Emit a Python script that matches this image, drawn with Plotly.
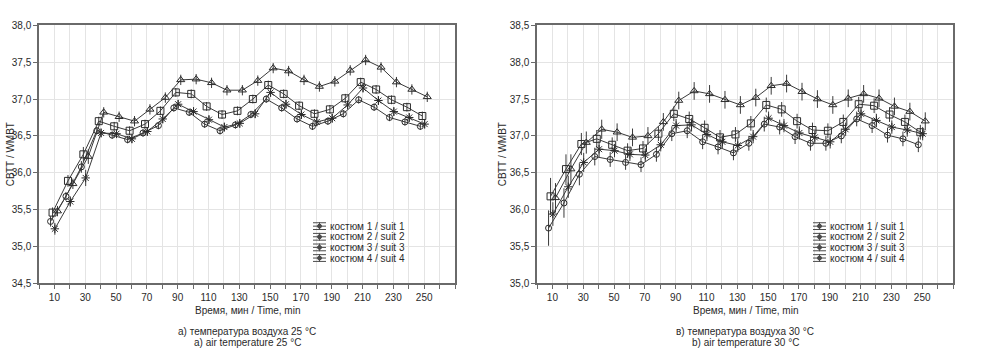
import plotly.graph_objects as go

# ---------------- data ----------------
time = list(range(10, 260, 10))
suit_names = ["костюм 1 / suit 1", "костюм 2 / suit 2", "костюм 3 / suit 3", "костюм 4 / suit 4"]

# a) air temperature 25 °C
left_suit1 = [35.34, 35.68, 36.08, 36.57, 36.51, 36.45, 36.54, 36.64, 36.88, 36.82, 36.66, 36.57, 36.65,
              36.79, 37.00, 36.88, 36.73, 36.63, 36.70, 36.80, 36.99, 36.89, 36.75, 36.69, 36.63]
left_suit2 = [35.46, 35.89, 36.25, 36.70, 36.63, 36.57, 36.66, 36.84, 37.09, 37.07, 36.90, 36.79, 36.84,
              37.00, 37.19, 37.07, 36.91, 36.80, 36.86, 37.01, 37.23, 37.13, 36.99, 36.89, 36.77]
left_suit3 = [35.24, 35.61, 35.93, 36.54, 36.53, 36.46, 36.56, 36.73, 36.93, 36.83, 36.72, 36.62, 36.67,
              36.80, 37.09, 36.93, 36.79, 36.69, 36.74, 36.92, 37.15, 36.98, 36.83, 36.75, 36.66]
left_suit4 = [35.48, 35.85, 36.22, 36.82, 36.76, 36.70, 36.86, 37.02, 37.26, 37.27, 37.22, 37.12, 37.12,
              37.25, 37.42, 37.38, 37.26, 37.17, 37.24, 37.39, 37.53, 37.43, 37.23, 37.13, 37.03]
left_err1 = [0.07, 0.06, 0.08] + [0.05] * 22
left_err2 = [0.07, 0.08, 0.10] + [0.06] * 22
left_err3 = [0.08, 0.07, 0.11] + [0.06] * 22
left_err4 = [0.07, 0.07, 0.10] + [0.07] * 22

# b) air temperature 30 °C
right_suit1 = [35.75, 36.09, 36.48, 36.72, 36.68, 36.64, 36.61, 36.75, 37.03, 37.07, 36.92, 36.85, 36.77,
               36.90, 37.16, 37.12, 36.99, 36.90, 36.90, 37.00, 37.23, 37.14, 37.01, 36.96, 36.88]
right_suit2 = [36.18, 36.55, 36.89, 36.96, 36.88, 36.80, 36.83, 37.03, 37.30, 37.23, 37.11, 36.98, 37.02,
               37.17, 37.42, 37.36, 37.20, 37.08, 37.07, 37.19, 37.43, 37.41, 37.29, 37.19, 37.05]
right_suit3 = [35.94, 36.31, 36.64, 36.82, 36.80, 36.75, 36.74, 36.88, 37.14, 37.15, 37.02, 36.92, 36.87,
               36.99, 37.24, 37.14, 37.04, 36.98, 36.92, 37.09, 37.30, 37.21, 37.12, 37.08, 37.03]
right_suit4 = [36.16, 36.55, 36.91, 37.09, 37.05, 36.98, 37.00, 37.19, 37.48, 37.61, 37.57, 37.49, 37.42,
               37.52, 37.68, 37.71, 37.60, 37.50, 37.42, 37.51, 37.57, 37.51, 37.40, 37.33, 37.20]
right_err1 = [0.24, 0.20, 0.15, 0.12] + [0.10] * 21
right_err2 = [0.25, 0.20, 0.15, 0.12] + [0.10] * 21
right_err3 = [0.16, 0.15, 0.13, 0.11] + [0.09] * 21
right_err4 = [0.20, 0.20, 0.15, 0.13] + [0.12] * 21

x_ticks = list(range(10, 260, 20))
left_yticks = [34.5, 35.0, 35.5, 36.0, 36.5, 37.0, 37.5, 38.0]
right_yticks = [35.0, 35.5, 36.0, 36.5, 37.0, 37.5, 38.0, 38.5]

# ---------------- styling ----------------
W, H = 984, 357
FONT = "Liberation Sans, Arial, sans-serif"
INK = "#2a2a2a"
GRID = "#e4e4e4"
FRAME = "#6a6a6a"
symbols = ["circle-open", "square-open", "asterisk-open", "triangle-up-open"]
sizes = [6, 7, 7, 7]
offsets = [-2.5, -1.2, 0.3, 2.0]


def px(x):
    return x / W


def py(y):
    return 1 - y / H


LEFT = (39, 455)
RIGHT = (537, 953)
TOP, BOTTOM = 20, 287

fig = go.Figure()

panels = [
    ("x", "y", [left_suit1, left_suit2, left_suit3, left_suit4], [left_err1, left_err2, left_err3, left_err4]),
    ("x2", "y2", [right_suit1, right_suit2, right_suit3, right_suit4],
     [right_err1, right_err2, right_err3, right_err4]),
]
for xa, ya, series, errs in panels:
    for i, (vals, err) in enumerate(zip(series, errs)):
        fig.add_trace(go.Scatter(
            x=[t + offsets[i] for t in time], y=vals,
            mode="lines+markers", xaxis=xa, yaxis=ya, showlegend=False,
            name=suit_names[i],
            line=dict(color="#3a3a3a", width=1),
            marker=dict(symbol=symbols[i], size=sizes[i], color=INK,
                        line=dict(color=INK, width=1)),
            error_y=dict(type="data", array=err, visible=True, color="#3a3a3a",
                         thickness=1, width=0),
        ))


def main_x(dom, anchor):
    return dict(domain=[px(dom[0]), px(dom[1])], anchor=anchor, range=[0, 270],
                tickmode="array", tickvals=x_ticks, ticktext=[str(v) for v in x_ticks],
                ticks="outside", ticklen=4, tickcolor=FRAME, tickwidth=1,
                minor=dict(tickmode="array", tickvals=list(range(0, 271, 10)), ticks="outside",
                           ticklen=4, tickcolor=FRAME, showgrid=True, gridcolor=GRID, gridwidth=1),
                showgrid=True, gridcolor=GRID, gridwidth=1, zeroline=False,
                showline=True, linecolor=FRAME, linewidth=1.5, mirror=True,
                tickfont=dict(family=FONT, size=10, color=INK))


def main_y(rng, ticks, anchor):
    return dict(domain=[py(BOTTOM), py(TOP)], anchor=anchor, range=rng,
                tickmode="array", tickvals=ticks, ticktext=[f"{v:.1f}".replace(".", ",") for v in ticks],
                ticks="outside", ticklen=4, tickcolor=FRAME, tickwidth=1,
                showgrid=True, gridcolor=GRID, gridwidth=1, zeroline=False,
                showline=True, linecolor=FRAME, linewidth=1.5, mirror=True,
                tickfont=dict(family=FONT, size=10, color=INK))


def top_x(over, anchor):
    return dict(overlaying=over, anchor=anchor, side="top", range=[0, 270],
                tickmode="array", tickvals=list(range(0, 271, 10)), ticks="inside", ticklen=3,
                tickcolor=FRAME, showticklabels=False, showgrid=False, zeroline=False, showline=False)


def right_y(over, anchor, rng, ticks):
    return dict(overlaying=over, anchor=anchor, side="right", range=rng,
                tickmode="array", tickvals=ticks, ticks="inside", ticklen=3,
                tickcolor=FRAME, showticklabels=False, showgrid=False, zeroline=False, showline=False)


fig.update_layout(
    width=W, height=H, autosize=False,
    margin=dict(l=0, r=0, t=0, b=0),
    paper_bgcolor="white", plot_bgcolor="white",
    showlegend=False,
    font=dict(family=FONT, size=10, color=INK),
    xaxis=main_x(LEFT, "y"),
    yaxis=main_y([34.5, 38.0], left_yticks, "x"),
    xaxis2=main_x(RIGHT, "y2"),
    yaxis2=main_y([35.0, 38.5], right_yticks, "x2"),
    xaxis3=top_x("x", "y"),
    yaxis3=right_y("y", "x", [34.5, 38.0], left_yticks),
    xaxis4=top_x("x2", "y2"),
    yaxis4=right_y("y2", "x2", [35.0, 38.5], right_yticks),
)

annotations = []
shapes = []
captions = [
    (LEFT, 10, "а) температура воздуха 25 °C", "a) air temperature 25 °C"),
    (RIGHT, 502, "в) температура воздуха 30 °C", "b) air temperature 30 °C"),
]
for dom, ytx, cap1, cap2 in captions:
    cx = (dom[0] + dom[1]) / 2
    annotations.append(dict(x=px(ytx), y=py((TOP + BOTTOM) / 2), xref="paper", yref="paper",
                            text="СВТТ / WMBT", textangle=-90, showarrow=False,
                            xanchor="center", yanchor="middle", font=dict(size=10, color=INK)))
    annotations.append(dict(x=px(cx), y=py(315), xref="paper", yref="paper",
                            text="Время, мин / Time, min", showarrow=False,
                            xanchor="center", yanchor="middle", font=dict(size=10, color=INK)))
    annotations.append(dict(x=px(cx), y=py(336.5), xref="paper", yref="paper",
                            text=cap1, showarrow=False,
                            xanchor="center", yanchor="middle", font=dict(size=10, color=INK)))
    annotations.append(dict(x=px(cx), y=py(348), xref="paper", yref="paper",
                            text=cap2, showarrow=False,
                            xanchor="center", yanchor="middle", font=dict(size=10, color=INK)))

# legends (drawn manually to match compact row spacing)
legend_rows = [227.8, 238.8, 249.8, 260.8]
for gx in (313, 813):
    for i, yc in enumerate(legend_rows):
        for dy in (-3.5, 0, 3.5):
            shapes.append(dict(type="line", xref="paper", yref="paper",
                               x0=px(gx), x1=px(gx + 13), y0=py(yc + dy), y1=py(yc + dy),
                               line=dict(color="#4a4a4a", width=1)))
        shapes.append(dict(type="line", xref="paper", yref="paper",
                           x0=px(gx + 6.5), x1=px(gx + 6.5), y0=py(yc - 4), y1=py(yc + 4),
                           line=dict(color="#4a4a4a", width=1)))
        shapes.append(dict(type="circle", xref="paper", yref="paper",
                           x0=px(gx + 4.5), x1=px(gx + 8.5), y0=py(yc - 2), y1=py(yc + 2),
                           fillcolor="#4a4a4a", line=dict(color="#4a4a4a", width=1)))
        annotations.append(dict(x=px(gx + 15), y=py(yc), xref="paper", yref="paper",
                                text=suit_names[i], showarrow=False,
                                xanchor="left", yanchor="middle", font=dict(size=10, color=INK)))

fig.update_layout(annotations=annotations, shapes=shapes)

fig.write_html("out.html", config={"displayModeBar": False},
               post_script="document.body.style.margin='0';document.body.style.overflow='hidden';")
